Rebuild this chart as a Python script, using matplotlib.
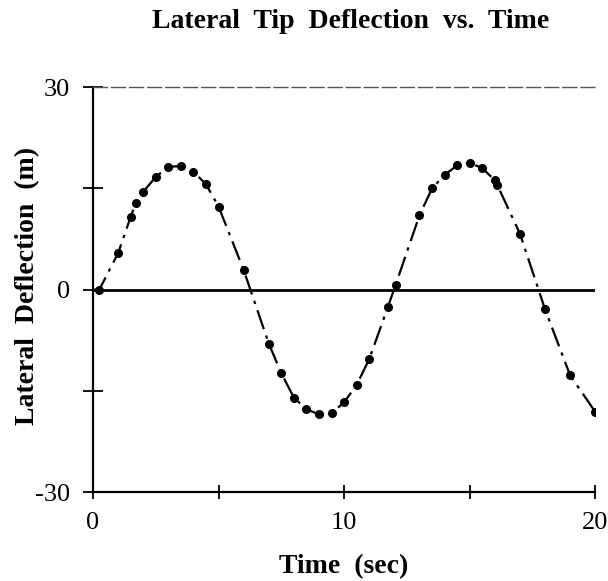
import numpy as np
import matplotlib
matplotlib.use("Agg")
import matplotlib.pyplot as plt

# digitised tip deflection samples
time_s = [0.25, 1.0, 1.5, 1.7, 2.0, 2.5, 3.0, 3.5, 4.0, 4.5, 5.0, 6.0,
          7.0, 7.5, 8.0, 8.5, 9.0, 9.5, 10.0, 10.5, 11.0, 11.75, 12.05,
          13.0, 13.5, 14.0, 14.5, 15.0, 15.5, 16.0, 16.1, 17.0, 18.0,
          19.0, 20.0]
deflection_m = [0.0, 5.4, 10.8, 12.8, 14.5, 16.7, 18.2, 18.3, 17.5, 15.6,
                12.3, 2.9, -8.0, -12.4, -16.0, -17.7, -18.5, -18.3, -16.7,
                -14.1, -10.3, -2.5, 0.7, 11.0, 15.0, 17.0, 18.4, 18.8, 18.0,
                16.2, 15.5, 8.3, -2.9, -12.7, -18.1]

x_ticks = [0, 5, 10, 15, 20]
x_labels = ["0", "", "10", "", "20"]
y_ticks = [-30, -15, 0, 15, 30]
y_labels = ["-30", "", "0", "", "30"]

plt.rcParams['font.family'] = ['Liberation Serif', 'DejaVu Serif']

fig = plt.figure(figsize=(6.08, 5.81), dpi=100)
ax = fig.add_axes([0.153, 0.153, 0.826, 0.697])

# zero reference line
ax.plot([0, 20], [0, 0], color='black', lw=2.0, zorder=2)

# curve through the samples
ax.plot([0.0] + time_s, [0.0] + deflection_m, color='black', lw=1.6,
        linestyle=(0, (9, 3, 1.5, 3)), zorder=3)
ax.plot(time_s, deflection_m, 'o', color='black', markersize=5.5, zorder=4)

ax.set_xlim(0, 20)
ax.set_ylim(-30, 30)
ax.set_xticks(x_ticks)
ax.set_xticklabels(x_labels)
ax.set_yticks(y_ticks)
ax.set_yticklabels(y_labels)

ax.tick_params(axis='x', direction='inout', length=10, width=1.3,
               labelsize=19, pad=9)
ax.tick_params(axis='y', direction='inout', length=15, width=1.3,
               labelsize=19, pad=9)

for side in ['left', 'bottom']:
    ax.spines[side].set_linewidth(1.6)
ax.spines['right'].set_visible(False)
ax.spines['top'].set_linewidth(1.0)
ax.spines['top'].set_linestyle((0, (10, 3)))
ax.spines['top'].set_color('#555555')

ax.set_xlabel("Time  (sec)", fontsize=20, fontweight='bold', labelpad=15)
ax.set_ylabel("Lateral  Deflection  (m)", fontsize=20, fontweight='bold')
ax.yaxis.set_label_coords(-0.105, 0.51)
fig.suptitle("Lateral  Tip  Deflection  vs.  Time", fontsize=20,
             fontweight='bold', x=0.576, y=0.984)

fig.savefig("out.png", dpi=100)
